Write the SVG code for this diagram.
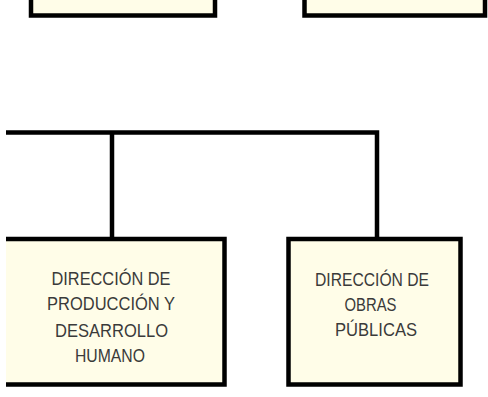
<svg xmlns="http://www.w3.org/2000/svg" width="488" height="397" viewBox="0 0 488 397">
<style>
.box{fill:#FFFDE8;stroke:#000;stroke-width:4.5}
.fill{fill:#FFFDE8;stroke:none}
.edge{fill:none;stroke:#000;stroke-width:4.5}
.conn{fill:none;stroke:#000;stroke-width:4.5}
.t{font-family:"Liberation Sans",Arial,sans-serif;font-size:18px;fill:#3a3a3a}
</style>
<rect width="488" height="397" fill="#fff"/>
<g id="node-top-left">
<rect class="box" x="31" y="-10" width="184" height="25.5"/>
</g>
<g id="node-top-right">
<rect class="box" x="304.5" y="-10" width="180.5" height="25.5"/>
</g>
<g id="connectors">
<path class="conn" d="M6,132.5 H377 V239"/>
<path class="conn" d="M112,132.5 V239"/>
</g>
<g id="node-produccion">
<rect class="fill" x="6" y="239" width="218.5" height="145.5"/>
<path class="edge" d="M6,239 H224.5 V384.5 H6"/>
<text class="t" x="51.5" y="285" textLength="119" lengthAdjust="spacingAndGlyphs">DIRECCIÓN DE</text>
<text class="t" x="47" y="310" textLength="128" lengthAdjust="spacingAndGlyphs">PRODUCCIÓN Y</text>
<text class="t" x="55" y="336.5" textLength="113" lengthAdjust="spacingAndGlyphs">DESARROLLO</text>
<text class="t" x="75" y="361.5" textLength="70" lengthAdjust="spacingAndGlyphs">HUMANO</text>
</g>
<g id="node-obras">
<rect class="box" x="288.5" y="239" width="172" height="145.5"/>
<text class="t" x="315" y="285.5" textLength="114" lengthAdjust="spacingAndGlyphs">DIRECCIÓN DE</text>
<text class="t" x="344.5" y="310.5" textLength="52" lengthAdjust="spacingAndGlyphs">OBRAS</text>
<text class="t" x="335" y="336" textLength="82" lengthAdjust="spacingAndGlyphs">PÚBLICAS</text>
</g>
</svg>
